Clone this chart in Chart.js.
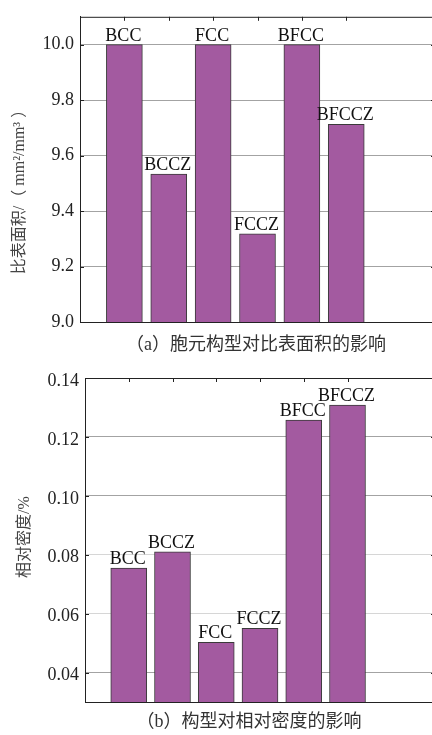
<!DOCTYPE html>
<html>
<head>
<meta charset="utf-8">
<script src="https://cdn.jsdelivr.net/npm/chart.js@4/dist/chart.umd.min.js"></script>
<style>
  html, body { margin: 0; padding: 0; background: #fff; overflow: hidden; width: 432px; height: 735px; }
  canvas { position: absolute; left: 0; }
  #chartA { top: 0; }
  #chartB { top: 360px; }
</style>
</head>
<body>
<canvas id="chartA" width="435" height="360"></canvas>
<canvas id="chartB" width="435" height="375"></canvas>
<script>
// Unit-cell configurations
const categories = ['BCC', 'BCCZ', 'FCC', 'FCCZ', 'BFCC', 'BFCCZ'];
// (a) specific surface area, mm²/mm³
const surfaceArea = [10.0, 9.533, 10.0, 9.318, 10.0, 9.712];
// (b) relative density, %
const relDensity = [0.0755, 0.081, 0.0503, 0.055, 0.1257, 0.1308];
// y-axis tick values
const surfaceTicks = [9.0, 9.2, 9.4, 9.6, 9.8, 10.0];
const densityTicks = [0.04, 0.06, 0.08, 0.10, 0.12, 0.14];

const SERIF = "'Liberation Serif', 'Times New Roman', serif";
const MIXED = "'Liberation Serif', 'Noto Sans CJK SC', serif";
const BAR_FILL = '#a35aa0';
const BAR_EDGE = '#3a3a3a';

// Frame, inward ticks, bar-name labels, caption and rotated axis title
const framePlugin = {
  id: 'frame',
  afterDatasetsDraw(chart, args, opts) {
    const { ctx, chartArea: a, scales: { x, y } } = chart;
    ctx.save();
    ctx.strokeStyle = '#222';
    ctx.lineWidth = 1;
    ctx.beginPath();
    ctx.moveTo(a.left, a.top + 0.5);
    ctx.lineTo(a.right, a.top + 0.5);
    categories.forEach((c, i) => {
      const px = Math.round(x.getPixelForValue(i + 1)) + 0.5;
      ctx.moveTo(px, a.top);
      ctx.lineTo(px, a.top + 4);
    });
    y.ticks.forEach(t => {
      const py = Math.round(y.getPixelForValue(t.value)) + 0.5;
      ctx.moveTo(a.left, py);
      ctx.lineTo(a.left + 4, py);
      ctx.moveTo(a.right - 4, py);
      ctx.lineTo(a.right, py);
    });
    ctx.stroke();

    // category name above each bar
    ctx.fillStyle = '#111';
    ctx.font = '18px ' + SERIF;
    ctx.textAlign = 'center';
    ctx.textBaseline = 'alphabetic';
    chart.getDatasetMeta(0).data.forEach((bar, i) => {
      ctx.fillText(categories[i], bar.x - 1, bar.y - 4);
    });
    ctx.restore();
  },
  afterDraw(chart, args, opts) {
    const { ctx } = chart;
    ctx.save();
    ctx.textAlign = 'center';
    ctx.textBaseline = 'middle';
    // caption under the plot
    ctx.fillStyle = '#333';
    ctx.font = '18px ' + MIXED;
    ctx.fillText(opts.caption, opts.captionX, opts.captionY);
    // rotated y-axis title
    ctx.fillStyle = '#444';
    ctx.font = '16px ' + MIXED;
    ctx.translate(opts.titleX, opts.titleY);
    ctx.rotate(-Math.PI / 2);
    ctx.fillText(opts.title, 0, 0);
    ctx.restore();
  }
};

function makeChart(canvasId, values, ticks, cfg) {
  return new Chart(document.getElementById(canvasId), {
    type: 'bar',
    data: {
      datasets: [{
        data: values.map((v, i) => ({ x: i + 1, y: v })),
        backgroundColor: BAR_FILL,
        borderColor: BAR_EDGE,
        borderWidth: 1,
        borderSkipped: false,
        barThickness: 36
      }]
    },
    options: {
      responsive: false,
      animation: false,
      events: [],
      layout: { padding: { top: cfg.padTop, bottom: cfg.padBottom, left: 0, right: 0 } },
      plugins: {
        legend: { display: false },
        tooltip: { enabled: false },
        frame: cfg.frame
      },
      scales: {
        x: {
          type: 'linear',
          min: 0,
          max: 8,
          offset: false,
          grid: { display: false },
          border: { display: true, color: '#222', width: 1 },
          ticks: { display: false },
          afterFit: s => { s.height = 0; }
        },
        y: {
          min: cfg.yMin,
          max: cfg.yMax,
          afterBuildTicks: s => { s.ticks = ticks.map(v => ({ value: v })); },
          afterFit: s => { s.width = cfg.axisWidth; },
          grid: {
            drawTicks: false,
            color: cfg.gridColor,
            lineWidth: 1
          },
          border: { display: true, color: '#222', width: 1 },
          ticks: {
            padding: 6,
            labelOffset: cfg.labelOffset,
            color: '#222',
            font: { family: SERIF, size: 18 },
            callback: v => Number(v).toFixed(cfg.decimals)
          }
        }
      }
    },
    plugins: [framePlugin]
  });
}

makeChart('chartA', surfaceArea, surfaceTicks, {
  yMin: 9.0, yMax: 10.1, decimals: 1, axisWidth: 80,
  padTop: 7, padBottom: 38, labelOffset: 0,
  gridColor: '#a3a3a3',
  frame: {
    caption: '（a）胞元构型对比表面积的影响', captionX: 256, captionY: 345,
    title: '比表面积/（ mm²/mm³ ）', titleX: 20, titleY: 188
  }
});

makeChart('chartB', relDensity, densityTicks, {
  yMin: 0.03, yMax: 0.14, decimals: 2, axisWidth: 85,
  padTop: 18, padBottom: 33, labelOffset: 3,
  gridColor: ctx => {
    const v = ctx.tick ? ctx.tick.value : 0;
    return (Math.abs(v - 0.06) < 1e-6 || Math.abs(v - 0.08) < 1e-6) ? '#d6d6d6' : '#a3a3a3';
  },
  frame: {
    caption: '（b）构型对相对密度的影响', captionX: 249, captionY: 362,
    title: '相对密度/%', titleX: 25, titleY: 177
  }
});
</script>
</body>
</html>
